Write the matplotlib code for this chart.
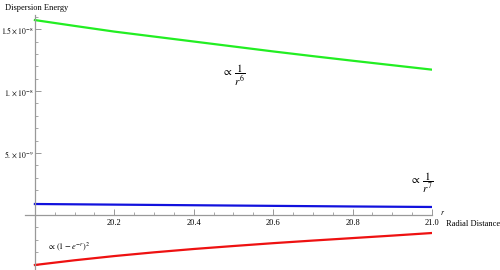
import numpy as np
import matplotlib
matplotlib.use("Agg")
import matplotlib.pyplot as plt
from matplotlib.ticker import FixedLocator, MultipleLocator

plt.rcParams['font.family'] = ['Liberation Serif', 'DejaVu Serif']
plt.rcParams['mathtext.fontset'] = 'stix'

# data
r_vals = [20.0, 20.1, 20.2, 20.3, 20.4, 20.5, 20.6, 20.7, 20.8, 20.9, 21.0]
e_r6 = [1.573e-8, 1.526e-8, 1.48e-8, 1.44e-8, 1.40e-8, 1.36e-8,
        1.32e-8, 1.282e-8, 1.245e-8, 1.209e-8, 1.173e-8]
e_r7 = [0.89e-9, 0.865e-9, 0.84e-9, 0.815e-9, 0.79e-9, 0.765e-9,
        0.74e-9, 0.715e-9, 0.69e-9, 0.67e-9, 0.65e-9]
e_exp = [-4.03e-9, -3.65e-9, -3.31e-9, -3.01e-9, -2.74e-9, -2.50e-9,
         -2.27e-9, -2.06e-9, -1.86e-9, -1.66e-9, -1.45e-9]

x_ticks = [20.2, 20.4, 20.6, 20.8, 21.0]
x_tick_labels = ['20.2', '20.4', '20.6', '20.8', '21.0']
y_ticks = [5e-9, 1e-8, 1.5e-8]
y_tick_labels = [r'$5.\times10^{-9}$', r'$1.\times10^{-8}$', r'$1.5\times10^{-8}$']

fig = plt.figure(figsize=(5, 2.7), dpi=100)
ax = fig.add_axes([0.05, 0.0, 0.814, 0.944])

ax.plot(r_vals, e_r6, color='#22ee22', lw=1.6)
ax.plot(r_vals, e_r7, color='#1111dd', lw=1.6)
ax.plot(r_vals, e_exp, color='#ee1111', lw=1.6)

ax.set_xlim(19.975, 21.0)
ax.set_ylim(-4.435e-9, 1.613e-8)

# Mathematica style axes crossing at (20, 0)
axis_col = '#999999'
for s in ['top', 'right']:
    ax.spines[s].set_visible(False)
ax.spines['left'].set_position(('data', 20.0))
ax.spines['bottom'].set_position(('data', 0.0))
ax.spines['left'].set_color(axis_col)
ax.spines['bottom'].set_color(axis_col)
ax.spines['left'].set_linewidth(0.9)
ax.spines['bottom'].set_linewidth(0.9)

ax.xaxis.set_major_locator(FixedLocator(x_ticks))
ax.set_xticklabels(x_tick_labels)
ax.xaxis.set_minor_locator(MultipleLocator(0.05))
ax.yaxis.set_major_locator(FixedLocator(y_ticks))
ax.set_yticklabels(y_tick_labels)
ax.yaxis.set_minor_locator(MultipleLocator(1e-9))

ax.tick_params(axis='x', which='major', direction='in', length=4, width=0.7,
               color=axis_col, labelsize=6, pad=3)
ax.tick_params(axis='x', which='minor', direction='in', length=2, width=0.6, color=axis_col)
ax.tick_params(axis='y', which='major', direction='in', length=4, width=0.7,
               color=axis_col, labelsize=5.5, pad=1)
ax.tick_params(axis='y', which='minor', direction='in', length=2, width=0.6, color=axis_col)

fig.text(0.01, 0.985, 'Dispersion Energy', fontsize=6, va='top', ha='left')
fig.text(0.88, 0.21, r'$r$', fontsize=5.5, va='center', ha='left')
fig.text(0.893, 0.172, 'Radial Distance', fontsize=6, va='center', ha='left')

ax.text(20.5, 1.13e-8, r'$\propto\,\dfrac{1}{r^6}$', fontsize=8, ha='center', va='center')
ax.text(20.975, 2.6e-9, r'$\propto\,\dfrac{1}{r^7}$', fontsize=8, ha='center', va='center')
ax.text(20.03, -2.6e-9, r'$\propto\,(1-e^{-r})^2$', fontsize=6, ha='left', va='center')

fig.savefig('out.png', dpi=100)
